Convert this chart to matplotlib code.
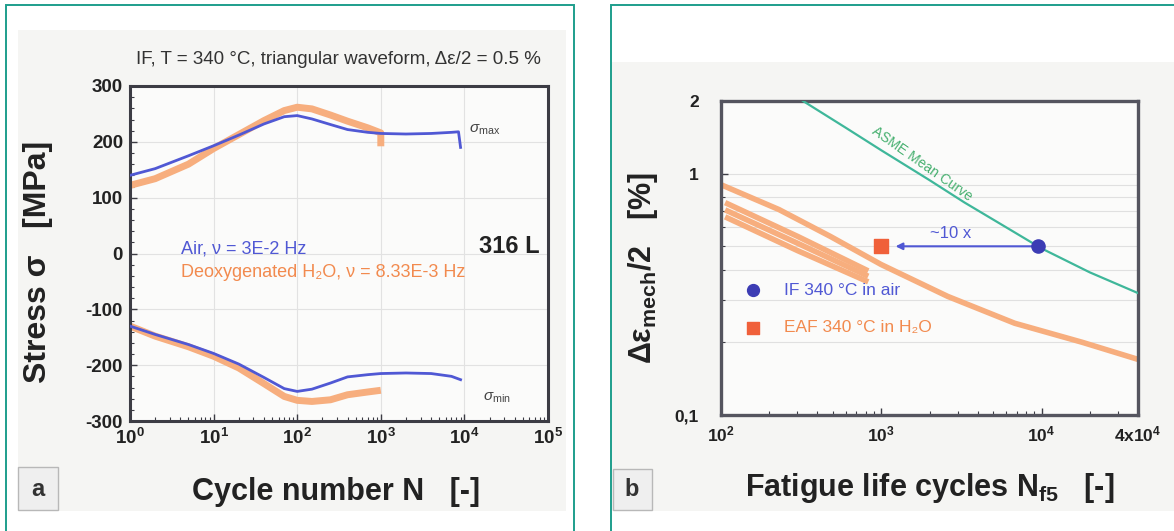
import matplotlib.pyplot as plt
from matplotlib.patches import Rectangle
from matplotlib.ticker import MultipleLocator, LogLocator, NullFormatter

plt.rcParams['font.family'] = ['Liberation Sans', 'DejaVu Sans']
plt.rcParams['axes.unicode_minus'] = False
plt.rcParams['mathtext.fontset'] = 'custom'
plt.rcParams['mathtext.rm'] = 'Liberation Sans'
plt.rcParams['mathtext.it'] = 'Liberation Sans:italic'
plt.rcParams['mathtext.bf'] = 'Liberation Sans:bold'

# ---- panel a: stress response, air vs. water ----
n_air_max = [1, 2, 5, 10, 20, 40, 70, 100, 150, 250, 400, 700, 1000, 2000, 4000, 7000, 8500, 9000]
s_air_max = [140, 152, 175, 193, 212, 232, 245, 247, 241, 231, 222, 217, 215, 214, 215, 217, 218, 190]
n_air_min = [1, 2, 5, 10, 20, 40, 70, 100, 150, 250, 400, 700, 1000, 2000, 4000, 7000, 9000]
s_air_min = [-130, -145, -163, -179, -198, -222, -242, -247, -243, -232, -221, -217, -215, -214, -215, -220, -226]
n_h2o_max = [1, 2, 5, 10, 20, 40, 70, 100, 150, 250, 400, 700, 1000, 1000]
s_h2o_max = [122, 134, 160, 188, 213, 238, 256, 262, 259, 248, 237, 225, 216, 192]
n_h2o_min = [1, 2, 5, 10, 20, 40, 70, 100, 150, 250, 400, 700, 1000]
s_h2o_min = [-130, -148, -167, -184, -205, -233, -256, -263, -265, -262, -253, -248, -245]
xticks_a = [1, 10, 100, 1000, 10000, 100000]
xlabels_a = [r'$\mathbf{10^{%d}}$' % i for i in range(6)]
yticks_a = [-300, -200, -100, 0, 100, 200, 300]
ylabels_a = ['-300', '-200', '-100', '0', '100', '200', '300']

# ---- panel b: fatigue life ----
n_asme = [325, 600, 1000, 2000, 3300, 6000, 10000, 20000, 40000]
e_asme = [2.0, 1.55, 1.25, 0.94, 0.76, 0.60, 0.49, 0.39, 0.32]
n_band = [100, 230, 480, 1000, 2600, 6800, 18000, 40000]
e_band = [0.90, 0.71, 0.55, 0.42, 0.31, 0.24, 0.20, 0.17]
n_scatter = [110, 300, 800]
e_scatter_hi = [0.75, 0.55, 0.40]
e_scatter_mid = [0.70, 0.515, 0.38]
e_scatter_lo = [0.655, 0.48, 0.36]
n_air_pt, e_air_pt = [9500], [0.5]
n_h2o_pt, e_h2o_pt = [1000], [0.5]
xticks_b = [100, 1000, 10000, 40000]
xlabels_b = [r'$\mathbf{10^{2}}$', r'$\mathbf{10^{3}}$', r'$\mathbf{10^{4}}$', r'$\mathbf{4x10^{4}}$']
yticks_b = [0.1, 1, 2]
ylabels_b = ['0,1', '1', '2']

BLUE = '#5058d4'
ORANGE = '#f7ae7e'
ORANGE_TXT = '#f28a4e'
TEAL = '#1e9e8c'
GREEN = '#3fb79a'
SPINE = '#3c3c44'

W, H = 1174, 531
fig = plt.figure(figsize=(W / 100, H / 100), dpi=100)


def box(x0, y0, x1, y1):
    # pixel box, origin top-left -> figure fraction [l, b, w, h]
    return [x0 / W, 1 - y1 / H, (x1 - x0) / W, (y1 - y0) / H]


def add_rect(x0, y0, x1, y1, **kw):
    l, b, w, h = box(x0, y0, x1, y1)
    fig.add_artist(Rectangle((l, b), w, h, transform=fig.transFigure, **kw))


# frames and scanned background
add_rect(18, 30, 566, 511, facecolor='#f5f5f3', edgecolor='none', zorder=0)
add_rect(612, 62, 1174, 511, facecolor='#f5f5f3', edgecolor='none', zorder=0)
add_rect(6, 5, 574, 545, fill=False, edgecolor=TEAL, lw=1.4)
add_rect(611, 5, 1190, 545, fill=False, edgecolor=TEAL, lw=1.4)
add_rect(18, 467, 58, 510, facecolor='#efefef', edgecolor='#b8b8b8', lw=1)
add_rect(613, 469, 652, 510, facecolor='#efefef', edgecolor='#b8b8b8', lw=1)
fig.text(38 / W, 1 - 489 / H, 'a', ha='center', va='center', fontsize=17, fontweight='bold', color='#333333')
fig.text(632 / W, 1 - 490 / H, 'b', ha='center', va='center', fontsize=17, fontweight='bold', color='#333333')

# ================= panel a =================
ax1 = fig.add_axes(box(130, 86, 548, 421))
ax1.set_facecolor('#fbfbfa')
ax1.plot(n_h2o_max, s_h2o_max, color=ORANGE, lw=5, solid_capstyle='butt', zorder=2,
         label='Deoxygenated H₂O, ν = 8.33E-3 Hz')
ax1.plot(n_h2o_min, s_h2o_min, color=ORANGE, lw=5, solid_capstyle='butt', zorder=2)
ax1.plot(n_air_max, s_air_max, color=BLUE, lw=2, zorder=3, label='Air, ν = 3E-2 Hz')
ax1.plot(n_air_min, s_air_min, color=BLUE, lw=2, zorder=3)
ax1.set_xscale('log')
ax1.set_xlim(1, 1e5)
ax1.set_ylim(-300, 300)
ax1.set_xticks(xticks_a)
ax1.set_xticklabels(xlabels_a)
ax1.set_yticks(yticks_a)
ax1.set_yticklabels(ylabels_a, fontweight='bold')
ax1.yaxis.set_minor_locator(MultipleLocator(20))
ax1.tick_params(which='both', direction='in', top=False, right=False, colors=SPINE, labelcolor='#222222')
ax1.tick_params(which='major', length=5, width=1, labelsize=13.5, pad=5)
ax1.tick_params(which='minor', length=3, width=0.8)
ax1.grid(True, which='major', color='#e2e2e2', lw=0.8)
for s in ax1.spines.values():
    s.set_color(SPINE)
    s.set_linewidth(2.2)

handles, labels = ax1.get_legend_handles_labels()
leg = ax1.legend(handles[::-1], labels[::-1], loc='upper left', bbox_to_anchor=(0.1, 0.565),
                 frameon=False, handlelength=0, handletextpad=0, borderpad=0,
                 labelspacing=0.35, fontsize=13)
for t, c in zip(leg.get_texts(), [BLUE, ORANGE_TXT]):
    t.set_color(c)

ax1.text(0.98, 0.522, '316 L', transform=ax1.transAxes, ha='right', va='center',
         fontsize=17, fontweight='bold', color='#222222')
ax1.text(0.81, 0.86, r'$\sigma_{\rm max}$', transform=ax1.transAxes, fontsize=11, color='#444444')
ax1.text(0.845, 0.06, r'$\sigma_{\rm min}$', transform=ax1.transAxes, fontsize=11, color='#444444')

fig.text(338 / W, 1 - 59 / H, 'IF, T = 340 °C, triangular waveform, Δε/2 = 0.5 %',
         ha='center', va='center', fontsize=13.5, color='#333333')
fig.text(38 / W, 1 - 262 / H, 'Stress σ   [MPa]', rotation=90, ha='center', va='center',
         fontsize=23, fontweight='bold', color='#222222')
fig.text(336 / W, 1 - 500 / H, 'Cycle number N   [-]', ha='center', va='baseline',
         fontsize=22, fontweight='bold', color='#222222')

# ================= panel b =================
ax2 = fig.add_axes(box(721, 101, 1138, 415))
ax2.set_facecolor('#fbfbfa')
ax2.set_xscale('log')
ax2.set_yscale('log')
ax2.set_xlim(100, 40000)
ax2.set_ylim(0.1, 2)
ax2.plot(n_asme, e_asme, color=GREEN, lw=1.6, zorder=3)
ax2.plot(n_band, e_band, color=ORANGE, lw=4, zorder=2)
for e in (e_scatter_hi, e_scatter_mid, e_scatter_lo):
    ax2.plot(n_scatter, e, color=ORANGE, lw=4, zorder=2)
air = ax2.scatter(n_air_pt, e_air_pt, s=90, marker='o', color='#3c3cb4', zorder=5,
                  label='IF 340 °C in air')
h2o = ax2.scatter(n_h2o_pt, e_h2o_pt, s=90, marker='s', color='#f0603a', zorder=5,
                  label='EAF 340 °C in H₂O')
ax2.annotate('', xy=(1180, e_air_pt[0]), xytext=(n_air_pt[0], e_air_pt[0]),
             arrowprops=dict(arrowstyle='-|>', color=BLUE, lw=1.5, mutation_scale=10), zorder=4)
ax2.text(2700, 0.565, '~10 x', ha='center', va='center', fontsize=12, color=BLUE)
ax2.text(1800, 1.1, 'ASME Mean Curve', rotation=-35, ha='center', va='center',
         fontsize=10, color='#47b070')

leg2 = ax2.legend(handles=[air, h2o], loc='upper left', bbox_to_anchor=(0.03, 0.45),
                  frameon=False, handlelength=1.2, handletextpad=1.2, borderpad=0,
                  labelspacing=1.3, fontsize=12.5, markerscale=0.9)
for t, c in zip(leg2.get_texts(), [BLUE, ORANGE_TXT]):
    t.set_color(c)

ax2.set_xticks(xticks_b)
ax2.set_xticklabels(xlabels_b)
ax2.set_yticks(yticks_b)
ax2.set_yticklabels(ylabels_b, fontweight='bold')
ax2.xaxis.set_minor_locator(LogLocator(base=10, subs=range(2, 10)))
ax2.xaxis.set_minor_formatter(NullFormatter())
ax2.yaxis.set_minor_formatter(NullFormatter())
ax2.tick_params(which='both', direction='in', top=False, right=False, colors=SPINE, labelcolor='#222222')
ax2.tick_params(which='major', length=5, width=1, labelsize=12.5)
ax2.tick_params(axis='y', which='major', pad=16)
ax2.tick_params(axis='x', which='major', pad=7)
ax2.tick_params(which='minor', length=3, width=0.8)
ax2.yaxis.grid(True, which='both', color='#e0e0e0', lw=0.8)
for s in ax2.spines.values():
    s.set_color('#55555f')
    s.set_linewidth(2.4)

fig.text(643 / W, 1 - 268 / H, r'$\mathbf{\Delta\varepsilon_{mech}/2}$   [%]', rotation=90,
         ha='center', va='center', fontsize=22, fontweight='bold', color='#222222')
fig.text(930 / W, 1 - 496 / H, r'Fatigue life cycles N$_{\mathbf{f5}}$   [-]', ha='center',
         va='baseline', fontsize=22, fontweight='bold', color='#222222')

fig.savefig('out.png', dpi=100)
